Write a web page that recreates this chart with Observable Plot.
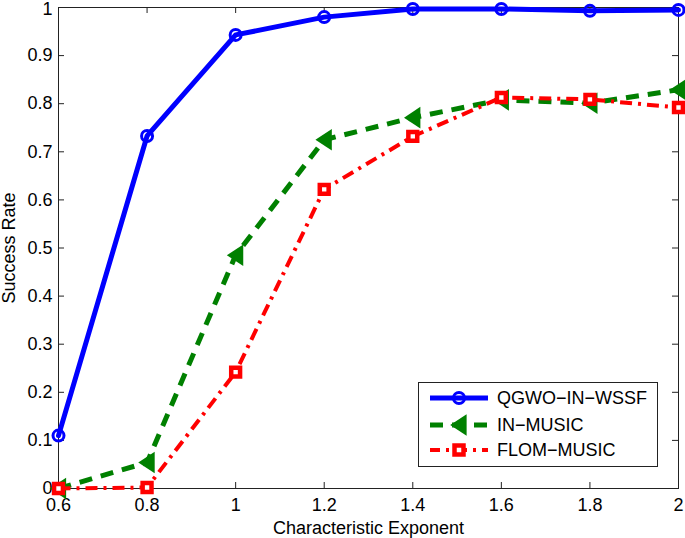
<!DOCTYPE html>
<html>
<head>
<meta charset="utf-8">
<script src="https://cdn.jsdelivr.net/npm/d3@7"></script>
<script src="https://cdn.jsdelivr.net/npm/@observablehq/plot@0.6"></script>
<style>
  body { margin: 0; background: white; }
  #wrap { position: relative; width: 685px; height: 538px; }
  #legend { position: absolute; left: 418px; top: 382px; width: 240px; height: 85px;
            background: white; border: 1px solid #222; box-sizing: border-box; }
</style>
</head>
<body>
<div id="wrap"></div>
<script>
const exponents = [0.6, 0.8, 1.0, 1.2, 1.4, 1.6, 1.8, 2.0];
const qgwo = [0.110, 0.733, 0.943, 0.980, 0.997, 0.997, 0.993, 0.995];
const inMusic = [0.000, 0.054, 0.485, 0.725, 0.771, 0.808, 0.801, 0.829];
const flomMusic = [0.000, 0.002, 0.242, 0.622, 0.732, 0.813, 0.809, 0.792];
const seriesNames = ["QGWO\u2212IN\u2212WSSF", "IN\u2212MUSIC", "FLOM\u2212MUSIC"];
const xTicks = [0.6, 0.8, 1, 1.2, 1.4, 1.6, 1.8, 2];
const yTicks = [0, 0.1, 0.2, 0.3, 0.4, 0.5, 0.6, 0.7, 0.8, 0.9, 1];

const rows = (vals) => exponents.map((x, i) => ({x, y: vals[i]}));
const dQ = rows(qgwo), dI = rows(inMusic), dF = rows(flomMusic);

const leftTriangle = {
  draw(ctx, size) {
    const s = Math.sqrt(size / Math.PI);
    ctx.moveTo(-1.1 * s, 0);
    ctx.lineTo(0.95 * s, -1.35 * s);
    ctx.lineTo(0.95 * s, 1.35 * s);
    ctx.closePath();
  }
};

const W = 685, H = 538, mL = 58, mR = 7, mT = 7, mB = 50;
const fw = W - mL - mR, fh = H - mT - mB, tl = 6;
const font = "'Liberation Sans', Arial, sans-serif";
const topTick = yTicks[yTicks.length - 1];

const chart = Plot.plot({
  width: W, height: H,
  marginLeft: mL, marginRight: mR, marginTop: mT, marginBottom: mB,
  x: {domain: [0.6, 2]},
  y: {domain: [0, 1]},
  style: {fontFamily: font, fontSize: "18px", color: "black", overflow: "visible", background: "white"},
  marks: [
    Plot.frame({stroke: "#222", strokeWidth: 1}),
    Plot.tickX(xTicks, {x: d => d, insetTop: fh - tl, stroke: "#222"}),
    Plot.tickX(xTicks, {x: d => d, insetBottom: fh - tl, stroke: "#222"}),
    Plot.tickY(yTicks, {y: d => d, insetRight: fw - tl, stroke: "#222"}),
    Plot.tickY(yTicks, {y: d => d, insetLeft: fw - tl, stroke: "#222"}),
    Plot.axisX({ticks: xTicks, tickSize: 0, tickPadding: 10, tickFormat: d => String(d), fontSize: 18,
      label: "Characteristic Exponent", labelAnchor: "center", labelArrow: "none", labelOffset: 45}),
    Plot.axisY({ticks: yTicks.slice(0, -1), tickSize: 0, tickPadding: 6, tickFormat: d => String(d), fontSize: 18,
      label: "Success Rate", labelAnchor: "center", labelArrow: "none", labelOffset: 56}),
    Plot.axisY({ticks: [topTick], tickSize: 0, tickPadding: 6, tickFormat: d => String(d), fontSize: 18,
      label: null, dy: 2}),
    Plot.line(dQ, {x: "x", y: "y", stroke: "#0000ff", strokeWidth: 5}),
    Plot.dot(dQ, {x: "x", y: "y", r: 5.5, stroke: "#0000ff", strokeWidth: 3, fill: "none"}),
    Plot.line(dI, {x: "x", y: "y", stroke: "#008000", strokeWidth: 5, strokeDasharray: "13,9", strokeLinecap: "butt"}),
    Plot.dot(dI, {x: "x", y: "y", r: 8, symbol: leftTriangle, fill: "#008000", stroke: "none"}),
    Plot.line(dF, {x: "x", y: "y", stroke: "#ff0000", strokeWidth: 4, strokeDasharray: "12,6,3,6", strokeLinecap: "butt"}),
    Plot.dot(dF, {x: "x", y: "y", r: 5, symbol: "square", fill: "white", stroke: "#ff0000", strokeWidth: 4.5})
  ]
});
const wrap = document.getElementById("wrap");
wrap.appendChild(chart);

// legend inside plot area
const lg = document.createElement("div");
lg.id = "legend";
const ns = "http://www.w3.org/2000/svg";
const svg = document.createElementNS(ns, "svg");
svg.setAttribute("width", 238); svg.setAttribute("height", 83);
svg.style.fontFamily = font;
svg.style.fontSize = "18px";
const rowY = [15, 42, 67];
const styles = [
  {stroke: "#0000ff", w: 5, dash: null},
  {stroke: "#008000", w: 5, dash: "13,9"},
  {stroke: "#ff0000", w: 4, dash: "12,6,3,6"}
];
function el(tag, attrs) { const e = document.createElementNS(ns, tag); for (const k in attrs) e.setAttribute(k, attrs[k]); svg.appendChild(e); return e; }
seriesNames.forEach((name, i) => {
  const y = rowY[i], st = styles[i];
  const ln = el("line", {x1: 11, x2: 69, y1: y, y2: y, stroke: st.stroke, "stroke-width": st.w});
  if (st.dash) { ln.setAttribute("stroke-dasharray", st.dash); ln.setAttribute("stroke-dashoffset", i === 1 ? 0 : 2); }
  if (i === 0) el("circle", {cx: 40, cy: y, r: 5.5, fill: "none", stroke: st.stroke, "stroke-width": 3});
  if (i === 1) el("path", {d: `M${40-8.8},${y} L${40+7.6},${y-10.8} L${40+7.6},${y+10.8} Z`, fill: st.stroke});
  if (i === 2) el("rect", {x: 35.5, y: y - 4.5, width: 9, height: 9, fill: "white", stroke: st.stroke, "stroke-width": 4.5});
  const t = el("text", {x: 78, y: y, dy: "0.35em", fill: "black"});
  t.textContent = name;
});
lg.appendChild(svg);
wrap.appendChild(lg);
</script>
</body>
</html>
